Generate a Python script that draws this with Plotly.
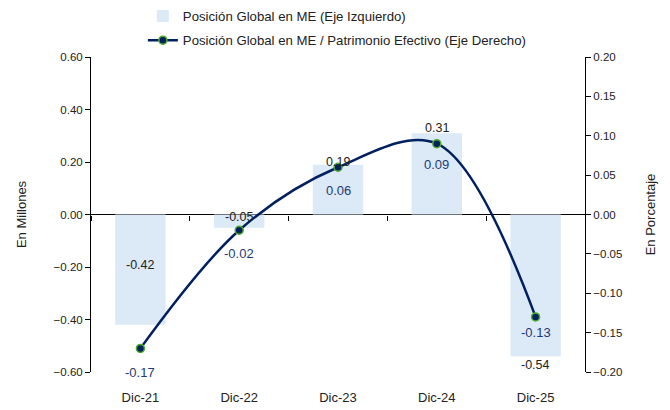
import plotly.graph_objects as go

categories = ["Dic-21", "Dic-22", "Dic-23", "Dic-24", "Dic-25"]
posicion_global = [-0.42, -0.05, 0.19, 0.31, -0.54]
ratio_patrimonio = [-0.17, -0.02, 0.06, 0.09, -0.13]

bar_name = "Posición Global en ME (Eje Izquierdo)"
line_name = "Posición Global en ME / Patrimonio Efectivo (Eje Derecho)"

# label pixel offsets (style only)
bar_label_shift = [60, 11, 3, 5, -9]
line_label_shift = [-24, -23, -23, -21, -16]

BAR_COLOR = "#DCE9F6"
LINE_COLOR = "#002060"
MARKER_EDGE = "#4CAF2A"
FONT = "Liberation Sans, Arial, sans-serif"

fig = go.Figure()
fig.add_trace(go.Bar(
    x=categories, y=posicion_global, name=bar_name, legendgroup="a",
    marker=dict(color=BAR_COLOR, line=dict(width=0)),
    hoverinfo="x+y",
))
fig.add_trace(go.Scatter(
    x=categories, y=ratio_patrimonio, name=line_name, yaxis="y2", legendgroup="b",
    mode="lines+markers",
    line=dict(color=LINE_COLOR, width=2.5, shape="spline", smoothing=1.0),
    marker=dict(color=LINE_COLOR, size=8, line=dict(color=MARKER_EDGE, width=1.5)),
))
# helper trace for boundary ticks on the zero line
fig.add_trace(go.Scatter(
    x=categories, y=posicion_global, xaxis="x2", mode="none",
    showlegend=False, hoverinfo="skip",
))

annotations = []
for c, v, s in zip(categories, posicion_global, bar_label_shift):
    annotations.append(dict(x=c, y=v, xref="x", yref="y", text=f"{v:.2f}",
                            showarrow=False, yshift=s,
                            font=dict(family=FONT, size=12.5, color="#222222")))
for c, v, s in zip(categories, ratio_patrimonio, line_label_shift):
    annotations.append(dict(x=c, y=v, xref="x", yref="y2", text=f"{v:.2f}",
                            showarrow=False, yshift=s,
                            font=dict(family=FONT, size=13, color="#1F3A78")))

fig.update_layout(
    width=670, height=410,
    margin=dict(l=91, r=85, t=57, b=38, autoexpand=False),
    paper_bgcolor="white", plot_bgcolor="white",
    bargap=0.49,
    font=dict(family=FONT, size=12, color="#222222"),
    showlegend=True,
    legend=dict(x=0.105, y=1.178, xanchor="left", yanchor="top",
                orientation="v", traceorder="grouped", tracegroupgap=4,
                font=dict(family=FONT, size=13.2, color="#222222"),
                bgcolor="rgba(0,0,0,0)", itemwidth=30),
    annotations=annotations,
    xaxis=dict(type="category", categoryorder="array", categoryarray=categories,
               showline=False, ticks="", showgrid=False, zeroline=False,
               tickfont=dict(family=FONT, size=13, color="#222222"), ticklabelstandoff=16),
    xaxis2=dict(type="category", overlaying="x", matches="x", anchor="free", position=0.5,
                showline=False, ticks="outside", tickson="boundaries", ticklen=5,
                tickcolor="black", showticklabels=False, showgrid=False, zeroline=False),
    yaxis=dict(range=[-0.6, 0.6], dtick=0.2, tickformat=".2f",
               showline=True, linecolor="black", linewidth=1,
               ticks="outside", ticklen=5, tickcolor="black",
               showgrid=False, zeroline=True, zerolinecolor="black", zerolinewidth=1,
               tickfont=dict(family=FONT, size=11.5, color="#222222"),
               title=dict(text="En Millones", standoff=24,
                          font=dict(family=FONT, size=13, color="#222222"))),
    yaxis2=dict(range=[-0.2, 0.2], dtick=0.05, tickformat=".2f", overlaying="y", side="right",
                showline=True, linecolor="black", linewidth=1,
                ticks="outside", ticklen=5, tickcolor="black",
                showgrid=False, zeroline=False,
                tickfont=dict(family=FONT, size=11.5, color="#222222"),
                title=dict(text="En Porcentaje", standoff=24,
                           font=dict(family=FONT, size=13, color="#222222"))),
)

fig.write_html("out.html")
